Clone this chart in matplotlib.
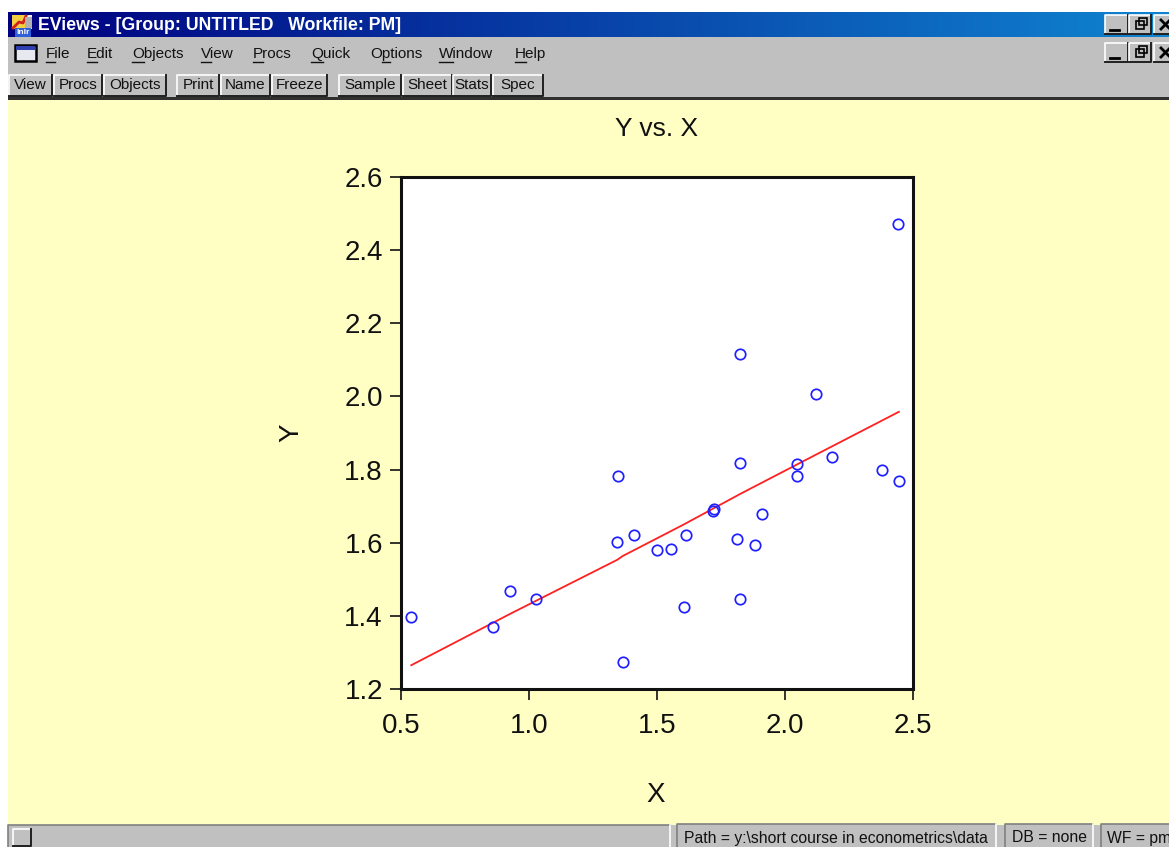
import matplotlib
matplotlib.use("Agg")
import matplotlib.pyplot as plt
import numpy as np
from matplotlib.patches import Rectangle

W, H = 1169, 847

# scatter values
x_vals = [0.54, 0.86, 0.925, 1.027, 1.344, 1.348, 1.367, 1.41, 1.5, 1.555, 1.605, 1.613,
          1.717, 1.722, 1.8125, 1.824, 1.824, 1.824, 1.883, 1.91, 2.047, 2.047, 2.121,
          2.184, 2.379, 2.441, 2.445]
y_vals = [1.397, 1.37, 1.468, 1.446, 1.602, 1.782, 1.274, 1.621, 1.58, 1.583, 1.424, 1.621,
          1.686, 1.692, 1.61, 2.116, 1.446, 1.818, 1.594, 1.678, 1.815, 1.782, 2.007,
          1.834, 1.80, 2.471, 1.769]

# fitted line
line_x = [0.54, 0.925, 1.344, 1.367, 1.605, 1.824, 2.047, 2.445]
line_y = [1.265, 1.405, 1.553, 1.564, 1.65, 1.733, 1.814, 1.958]

x_ticks = [0.5, 1.0, 1.5, 2.0, 2.5]
y_ticks = [1.2, 1.4, 1.6, 1.8, 2.0, 2.2, 2.4, 2.6]

menu_items = ["File", "Edit", "Objects", "View", "Procs", "Quick", "Options", "Window", "Help"]
menu_left = [46, 87, 132, 201, 253, 311, 370, 439, 515]
menu_under = [0, 0, 0, 0, 0, 0, 1, 0, 0]
toolbar_items = ["View", "Procs", "Objects", "Print", "Name", "Freeze", "Sample", "Sheet", "Stats", "Spec"]
toolbar_edges = [(9, 52), (54, 102), (104, 166), (177, 219), (221, 270), (272, 327),
                 (339, 401), (403, 452), (453, 491), (493, 543)]

GRAY = "#c0c0c0"
YELLOW = "#ffffc4"
FONT = "Liberation Sans"

plt.rcParams["font.family"] = [FONT, "DejaVu Sans"]

fig = plt.figure(figsize=(W / 100, H / 100), dpi=100, facecolor="white")

# pixel-coordinate layer for the window chrome
bg = fig.add_axes([0, 0, 1, 1])
bg.set_xlim(0, W)
bg.set_ylim(H, 0)
bg.axis("off")


def rect(x0, y0, x1, y1, color, z=1):
    bg.add_patch(Rectangle((x0, y0), x1 - x0, y1 - y0, facecolor=color, edgecolor="none", zorder=z))


def raised(x0, y0, x1, y1, z=2):
    # win95 style button
    rect(x0, y0, x1, y1, GRAY, z)
    bg.plot([x0, x0, x1], [y1, y0, y0], color="white", lw=1.2, zorder=z + 1)
    bg.plot([x0, x1, x1], [y1, y1, y0], color="#202020", lw=1.4, zorder=z + 1)


def sunken(x0, y0, x1, y1):
    rect(x0, y0, x1, y1, GRAY, 2)
    bg.plot([x0, x0, x1], [y1, y0, y0], color="#808080", lw=1.2, zorder=3)
    bg.plot([x0, x1, x1], [y1, y1, y0], color="white", lw=1.2, zorder=3)


def label(x, y, s, size=11, ha="left", color="#111111", weight="normal"):
    return bg.text(x, y, s, fontsize=size, ha=ha, va="center", color=color, weight=weight, zorder=6)


# background bands
rect(8, 37, W, 97, GRAY)
rect(8, 97, W, 100, "#303030")
rect(8, 100, W, 825, YELLOW)
rect(8, 825, W, H, GRAY)

# title bar gradient
grad = np.linspace(0, 1, 256).reshape(1, -1)
cmap = matplotlib.colors.LinearSegmentedColormap.from_list("tb", ["#000080", "#1084d0"])
bg.imshow(grad, extent=(8, W, 37, 12), aspect="auto", cmap=cmap, zorder=1)
bg.set_xlim(0, W)
bg.set_ylim(H, 0)
label(38, 25, "EViews - [Group: UNTITLED   Workfile: PM]", size=12.8, color="white", weight="bold")

# app icon
rect(12, 15, 32, 29, "#f0f0f0", 2)
rect(12, 15, 25, 29, "#f4d040", 2)
bg.plot([13, 19, 23, 26], [28, 22, 23, 16], color="#d02020", lw=2, zorder=3)
rect(25, 17, 32, 28, "#b0b0b0", 3)
rect(15, 28, 31, 37, "#3060d8", 4)
label(16.5, 32.5, "lnlr", size=6, color="white", weight="bold")

# window buttons
for top in (15, 43):
    raised(1105, top, 1128, top + 19)
    raised(1129, top, 1151, top + 19)
    raised(1154, top, 1176, top + 19)
    bg.plot([1110, 1119], [top + 15, top + 15], color="black", lw=2, zorder=4)
    bg.add_patch(Rectangle((1136, top + 6), 8, 8, fill=False, edgecolor="black", lw=1.2, zorder=4))
    bg.add_patch(Rectangle((1139, top + 3), 8, 7, fill=False, edgecolor="black", lw=1.2, zorder=4))
    bg.plot([1161, 1170], [top + 5, top + 14], color="black", lw=2, zorder=4)
    bg.plot([1161, 1170], [top + 14, top + 5], color="black", lw=2, zorder=4)

# document icon and menu
rect(15, 45, 36, 61, "#e8e8f0", 2)
bg.add_patch(Rectangle((15, 45), 21, 16, fill=False, edgecolor="black", lw=1.8, zorder=3))
rect(16, 46, 35, 50, "#3040b0", 3)

fig.canvas.draw()
rend = fig.canvas.get_renderer()
for name, left, under in zip(menu_items, menu_left, menu_under):
    label(left, 54, name)
    # underline the mnemonic letter
    pre = label(left, 54, name[:under]) if under else None
    start = left + (pre.get_window_extent(rend).width if pre else 0)
    if pre:
        pre.remove()
    ch = label(left, 54, name[under])
    wd = ch.get_window_extent(rend).width
    ch.remove()
    bg.plot([start, start + wd], [62, 62], color="#111111", lw=1, zorder=4)

# toolbar
for name, (x0, x1) in zip(toolbar_items, toolbar_edges):
    raised(x0, 75, x1, 96)
    label((x0 + x1) / 2, 85, name, ha="center")

# status bar
sunken(8, 825, 670, 850)
raised(13, 829, 31, 846, z=4)
sunken(677, 824, 996, 850)
sunken(1005, 824, 1093, 850)
sunken(1101, 824, 1175, 850)
label(684, 838, "Path = y:\\short course in econometrics\\data", size=11.3)
label(1012, 838, "DB = none", size=11.3)
label(1107, 838, "WF = pm", size=11.3)

# the actual graph
ax = fig.add_axes([401 / W, 1 - 689 / H, (913 - 401) / W, (689 - 177) / H])
ax.set_facecolor("white")
ax.plot(line_x, line_y, color="#ff2020", lw=1.3, zorder=2)
ax.plot(x_vals, y_vals, linestyle="none", marker="o", ms=7.5, mfc="none", mec="#2020ff", mew=1.25, zorder=3)
ax.set_xlim(0.5, 2.5)
ax.set_ylim(1.2, 2.6)
ax.set_xticks(x_ticks)
ax.set_yticks(y_ticks)
ax.set_xticklabels([f"{v:.1f}" for v in x_ticks])
ax.set_yticklabels([f"{v:.1f}" for v in y_ticks])
ax.tick_params(direction="out", length=8, width=1.2, labelsize=20, colors="#111111")
ax.tick_params(axis="x", pad=9.5)
ax.tick_params(axis="y", pad=5)
for spine in ax.spines.values():
    spine.set_linewidth(2.2)
    spine.set_color("#111111")

fig.text(656.5 / W, 1 - 129 / H, "Y vs. X", fontsize=19, ha="center", va="center", color="#111111")
fig.text(656 / W, 1 - 795 / H, "X", fontsize=20, ha="center", va="center", color="#111111")
fig.text(291 / W, 1 - 433 / H, "Y", fontsize=20, ha="center", va="center", rotation=90, color="#111111")

fig.savefig("out.png", dpi=100)
